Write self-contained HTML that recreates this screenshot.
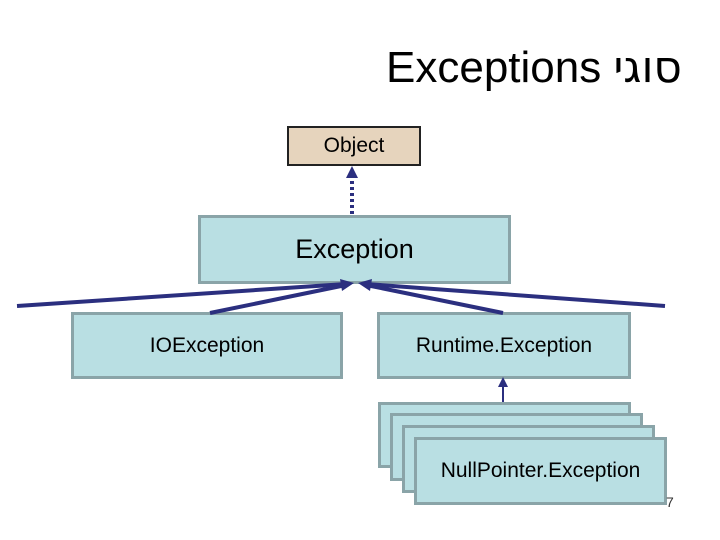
<!DOCTYPE html>
<html><head><meta charset="utf-8"><style>
body{margin:0;width:720px;height:540px;background:#fff;position:relative;overflow:hidden;font-family:"Liberation Sans",sans-serif}
.b{position:absolute;box-sizing:border-box;background:#b9dfe3;border:3px solid #8aa4a8;display:flex;align-items:center;justify-content:center;color:#000}
</style></head><body>
<div style="position:absolute;left:386px;top:42px;font-size:44px;white-space:nowrap">Exceptions <span style="font-family:'DejaVu Sans',sans-serif">סוגי</span></div>
<div class="b" style="left:287px;top:126px;width:134px;height:40px;background:#e6d4bd;border:2px solid #222;font-size:21px">Object</div>
<div class="b" style="left:198px;top:215px;width:313px;height:69px;font-size:27px">Exception</div>
<div class="b" style="left:71px;top:312px;width:272px;height:67px;font-size:21px">IOException</div>
<div class="b" style="left:377px;top:312px;width:254px;height:67px;font-size:21px">Runtime.Exception</div>
<div class="b" style="left:378px;top:402px;width:253px;height:66px"></div>
<div class="b" style="left:390px;top:413px;width:253px;height:68px"></div>
<div class="b" style="left:402px;top:425px;width:253px;height:68px"></div>
<div class="b" style="left:414px;top:437px;width:253px;height:68px;font-size:21px">NullPointer.Exception</div>
<div style="position:absolute;left:666px;top:494px;font-size:14px;color:#333">7</div>
<svg width="720" height="540" style="position:absolute;left:0;top:0">
<g stroke="#2b2f7f" stroke-width="4" fill="none">
<line x1="17" y1="306" x2="346" y2="284"/>
<line x1="665" y1="306" x2="366" y2="284"/>
<line x1="210" y1="313" x2="346" y2="285"/>
<line x1="503" y1="313" x2="366" y2="285"/>
<line x1="352" y1="214" x2="352" y2="174" stroke-dasharray="3,3"/>
<line x1="503" y1="402" x2="503" y2="385" stroke-width="2"/>
</g>
<g fill="#2b2f7f">
<polygon points="354,283 340,279 342,291"/>
<polygon points="358,283 372,279 370,291"/>
<polygon points="352,166 346,178 358,178"/>
<polygon points="503,377 498,387 508,387"/>
</g>
</svg>
</body></html>
